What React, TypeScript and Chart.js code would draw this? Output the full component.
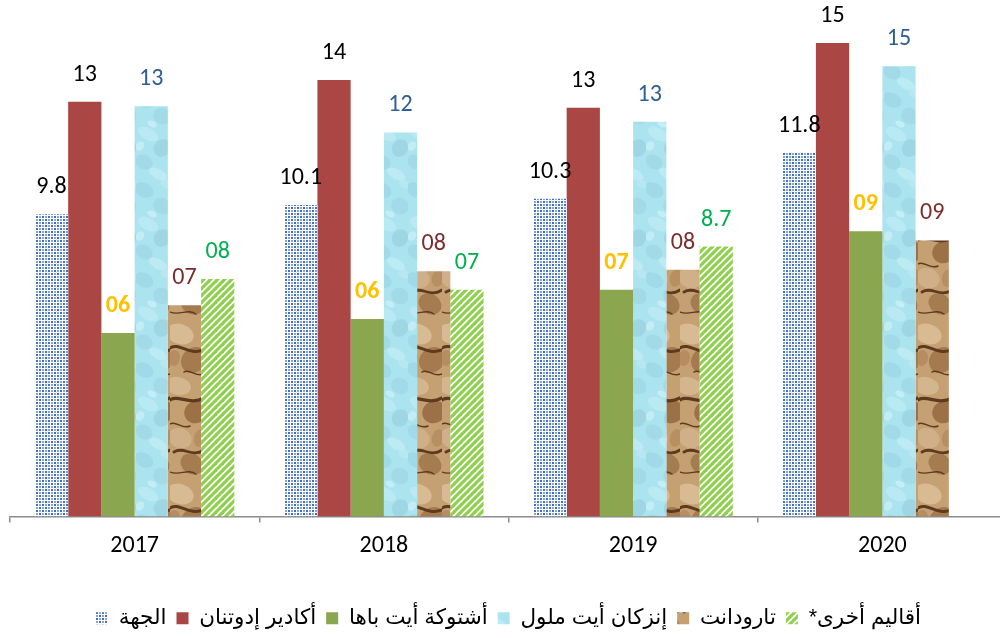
import React, { useEffect, useRef } from "react";
import { Chart, registerables } from "chart.js";

Chart.register(...registerables);

const YEARS = ["2017", "2018", "2019", "2020"];
const SERIES_NAMES = [
  "الجهة",
  "أكادير إدوتنان",
  "أشتوكة أيت باها",
  "إنزكان أيت ملول",
  "تارودانت",
  "أقاليم أخرى*",
];

const REGION = [9.8, 10.1, 10.3, 11.8];
const AGADIR = [13.45, 14.15, 13.25, 15.35];
const CHTOUKA = [5.95, 6.4, 7.35, 9.25];
const INEZGANE = [13.3, 12.45, 12.8, 14.6];
const TAROUDANT = [6.85, 7.95, 8.0, 8.95];
const OTHERS: (number | null)[] = [7.7, 7.35, 8.75, null];

const REGION_LABELS = ["9.8", "10.1", "10.3", "11.8"];
const AGADIR_LABELS = ["13", "14", "13", "15"];
const CHTOUKA_LABELS = ["06", "06", "07", "09"];
const INEZGANE_LABELS = ["13", "12", "13", "15"];
const TAROUDANT_LABELS = ["07", "08", "08", "09"];
const OTHERS_LABELS = ["08", "07", "8.7", ""];

const VALUE_LABELS = [
  REGION_LABELS,
  AGADIR_LABELS,
  CHTOUKA_LABELS,
  INEZGANE_LABELS,
  TAROUDANT_LABELS,
  OTHERS_LABELS,
];

const LABEL_COLORS = ["#000000", "#000000", "#FFC000", "#2F5E95", "#7A2D2B", "#00B050"];
const LABEL_WEIGHTS = ["normal", "normal", "bold", "normal", "normal", "normal"];

const NUM_FONT = "Carlito, Calibri, Lato, sans-serif";
const AR_FONT = "Arial, 'Liberation Sans', 'DejaVu Sans', sans-serif";

function makeTile(w: number, h: number, draw: (c: CanvasRenderingContext2D) => void) {
  const cv = document.createElement("canvas");
  cv.width = w;
  cv.height = h;
  const c = cv.getContext("2d")!;
  draw(c);
  const ctx = document.createElement("canvas").getContext("2d")!;
  return ctx.createPattern(cv, "repeat")!;
}

function bluePattern() {
  return makeTile(6, 6, (c) => {
    c.fillStyle = "#ffffff";
    c.fillRect(0, 0, 6, 6);
    c.fillStyle = "#3F6FC4";
    c.fillRect(0, 0, 2, 2);
    c.fillRect(3, 3, 2, 2);
    c.fillStyle = "#86A4DA";
    c.fillRect(3, 0, 2, 2);
    c.fillRect(0, 3, 2, 2);
  });
}

function stripePattern() {
  return makeTile(7, 7, (c) => {
    c.fillStyle = "#ffffff";
    c.fillRect(0, 0, 7, 7);
    c.strokeStyle = "#8FD14F";
    c.lineWidth = 3.2;
    c.lineCap = "square";
    const segs = [
      [-1, 8, 8, -1],
      [-8, 8, 1, -1],
      [6, 8, 15, -1],
    ];
    segs.forEach(([a, b, d, e]) => {
      c.beginPath();
      c.moveTo(a, b);
      c.lineTo(d, e);
      c.stroke();
    });
  });
}

function waterPattern() {
  const W = 34, H = 90;
  return makeTile(W, H, (c) => {
    c.fillStyle = "#ABE3EF";
    c.fillRect(0, 0, W, H);
    const blobs = [
      [8, 10, 10, 7, "#A0D9E7"],
      [26, 26, 9, 8, "#A2DAE8"],
      [12, 44, 11, 6, "#B9EAF3"],
      [26, 58, 8, 9, "#9ED6E4"],
      [8, 72, 9, 7, "#A3DAE7"],
      [22, 84, 10, 5, "#BCEBF4"],
      [30, 4, 6, 4, "#B7E8F2"],
      [16, 34, 5, 3, "#C4EEF6"],
      [4, 56, 4, 5, "#C2EDF5"],
    ];
    blobs.forEach(([x, y, rx, ry, col]) => {
      c.fillStyle = col as string;
      c.beginPath();
      c.ellipse(x as number, y as number, rx as number, ry as number, 0.5, 0, Math.PI * 2);
      c.fill();
    });
  });
}

function rockPattern() {
  const W = 34, H = 160;
  return makeTile(W, H, (c) => {
    c.fillStyle = "#C4A073";
    c.fillRect(0, 0, W, H);
    const blobs = [
      [10, 14, 14, 10, "#D8BB93", 0.3],
      [24, 40, 12, 14, "#A47A4E", 0.8],
      [8, 66, 13, 9, "#D4B68E", 0.2],
      [26, 92, 11, 12, "#9C7148", 1.0],
      [10, 118, 12, 10, "#D0B088", 0.4],
      [22, 144, 12, 10, "#A57B50", 0.6],
      [4, 38, 6, 8, "#B58D61", 0.1],
      [30, 118, 6, 9, "#B88F62", 0.2],
    ];
    blobs.forEach(([x, y, rx, ry, col, r]) => {
      c.fillStyle = col as string;
      c.beginPath();
      c.ellipse(x as number, y as number, rx as number, ry as number, r as number, 0, Math.PI * 2);
      c.fill();
    });
    const cracks = [
      [0, 28, 10, 22, 18, 36, 34, 30, 3],
      [14, 52, 20, 48, 26, 58, 34, 54, 1.5],
      [0, 80, 8, 74, 20, 86, 34, 78, 3.2],
      [0, 104, 6, 100, 12, 110, 20, 106, 1.4],
      [4, 132, 14, 126, 22, 138, 34, 130, 2.8],
      [0, 152, 10, 156, 18, 148, 26, 154, 1.3],
    ];
    c.strokeStyle = "#5E3A1E";
    c.lineCap = "round";
    cracks.forEach(([a, b, d, e, f, g, h, k, lw]) => {
      c.lineWidth = lw;
      c.beginPath();
      c.moveTo(a, b);
      c.bezierCurveTo(d, e, f, g, h, k);
      c.stroke();
    });
  });
}

const valueLabelPlugin = {
  id: "valueLabels",
  afterDatasetsDraw(chart: any) {
    const ctx = chart.ctx as CanvasRenderingContext2D;
    chart.data.datasets.forEach((_ds: any, i: number) => {
      const meta = chart.getDatasetMeta(i);
      meta.data.forEach((el: any, j: number) => {
        const txt = VALUE_LABELS[i][j];
        if (!txt) return;
        ctx.save();
        ctx.font = `${LABEL_WEIGHTS[i]} 24px ${NUM_FONT}`;
        ctx.fillStyle = LABEL_COLORS[i];
        ctx.textAlign = "center";
        ctx.textBaseline = "middle";
        ctx.fillText(txt, el.x, el.y - 27);
        ctx.restore();
      });
    });
  },
};

export default function App() {
  const ref = useRef<HTMLCanvasElement | null>(null);

  useEffect(() => {
    if (!ref.current) return;
    const fills = [
      bluePattern(),
      "#AA4644",
      "#8AA64E",
      waterPattern(),
      rockPattern(),
      stripePattern(),
    ];
    const values = [REGION, AGADIR, CHTOUKA, INEZGANE, TAROUDANT, OTHERS];
    const chart = new Chart(ref.current, {
      type: "bar",
      data: {
        labels: YEARS,
        datasets: values.map((v, i) => ({
          label: SERIES_NAMES[i],
          data: v,
          backgroundColor: fills[i] as any,
          borderWidth: 0,
          categoryPercentage: 0.8,
          barPercentage: 1.0,
        })),
      },
      options: {
        animation: false,
        responsive: false,
        layout: { padding: { top: 23, left: 10, right: 3, bottom: 0 } },
        plugins: {
          tooltip: { enabled: false },
          legend: {
            position: "bottom",
            textDirection: "rtl",
            labels: {
              boxWidth: 12,
              boxHeight: 12,
              padding: 10,
              color: "#000",
              font: { size: 21.5, family: AR_FONT },
            },
          },
        },
        scales: {
          x: {
            afterFit: (s: any) => {
              s.height = 81;
            },
            grid: {
              offset: true,
              drawOnChartArea: false,
              tickLength: 6,
              color: "#8C8C8C",
              lineWidth: 1.5,
            },
            border: { color: "#8C8C8C", width: 1.5 },
            ticks: {
              color: "#000",
              padding: 9,
              font: { size: 24, family: NUM_FONT },
            },
          },
          y: {
            display: false,
            min: 0,
            max: 16,
          },
        },
      },
      plugins: [valueLabelPlugin],
    });
    return () => chart.destroy();
  }, []);

  return (
    <div
      style={{
        position: "fixed",
        left: 0,
        top: 0,
        width: 1000,
        height: 639,
        overflow: "hidden",
        background: "#fff",
      }}
    >
      <canvas ref={ref} width={1010} height={639} style={{ display: "block" }} />
    </div>
  );
}
